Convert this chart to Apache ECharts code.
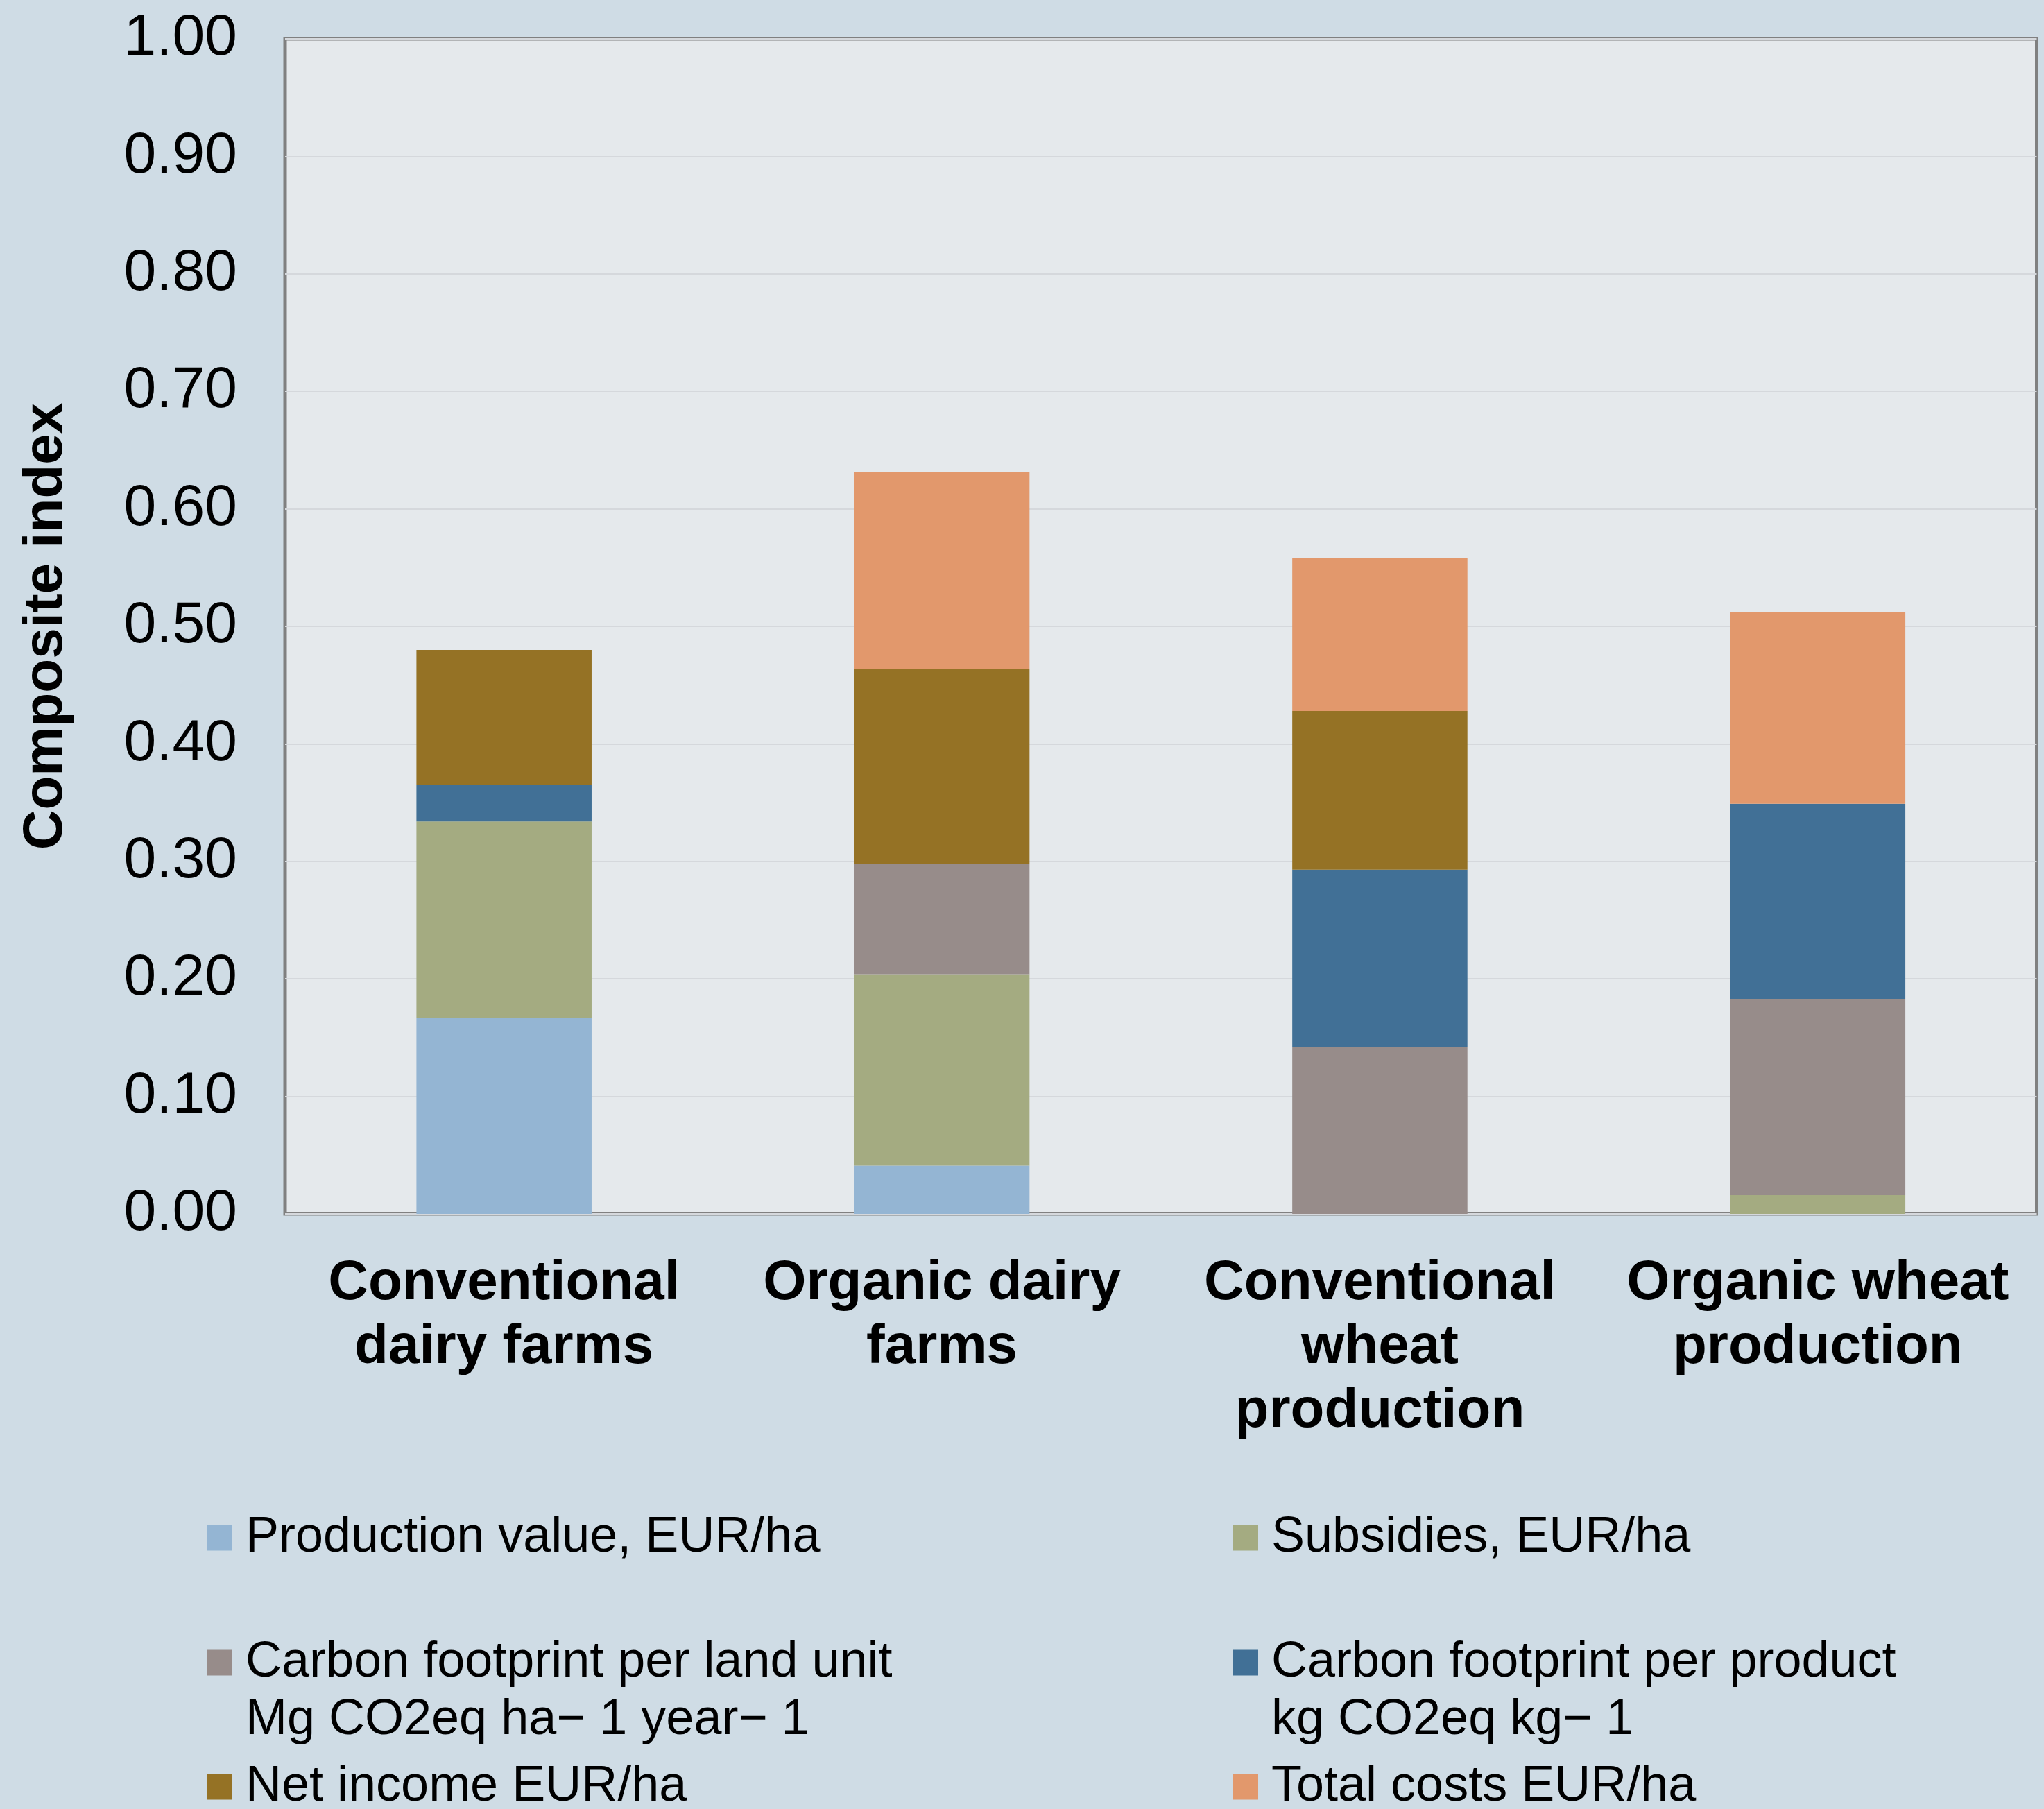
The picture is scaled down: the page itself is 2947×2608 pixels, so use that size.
<!DOCTYPE html>
<html>
<head>
<meta charset="utf-8">
<script src="https://cdn.jsdelivr.net/npm/echarts@6/dist/echarts.min.js"></script>
<style>
html,body{margin:0;padding:0;background:#CFDCE5;}
#c{width:2947px;height:2608px;}
</style>
</head>
<body>
<div id="c"></div>
<script>
const categories = ['Conventional\ndairy farms', 'Organic dairy\nfarms', 'Conventional\nwheat\nproduction', 'Organic wheat\nproduction'];
const seriesNames = [
  'Production value, EUR/ha',
  'Subsidies, EUR/ha',
  'Carbon footprint per land unit\nMg CO2eq ha\u2212 1 year\u2212 1',
  'Carbon footprint per product\nkg CO2eq kg\u2212 1',
  'Net income EUR/ha',
  'Total costs EUR/ha'
];
const productionValue = [0.167, 0.041, 0, 0];
const subsidies = [0.167, 0.163, 0, 0.016];
const carbonLand = [0, 0.094, 0.142, 0.167];
const carbonProduct = [0.031, 0, 0.151, 0.166];
const netIncome = [0.115, 0.166, 0.135, 0];
const totalCosts = [0, 0.167, 0.130, 0.163];
const seriesColors = ['#94B5D3', '#A4AB81', '#978C8A', '#417096', '#957225', '#E2986C'];
const yTicks = ['0.00','0.10','0.20','0.30','0.40','0.50','0.60','0.70','0.80','0.90','1.00'];

const seriesData = [productionValue, subsidies, carbonLand, carbonProduct, netIncome, totalCosts];
const FONT = '"Liberation Sans", Arial, Helvetica, sans-serif';

const chart = echarts.init(document.getElementById('c'), null, {renderer: 'canvas'});

const legendPos = [
  {left: 298, row: 0}, {left: 1777, row: 0},
  {left: 298, row: 1}, {left: 1777, row: 1},
  {left: 298, row: 2}, {left: 1777, row: 2}
];
const rowTops = [2217 - 41.5, 2397 - 124.5, 2576 - 41.5];

const legends = seriesNames.map((n, i) => ({
  data: [n],
  left: legendPos[i].left,
  top: rowTops[legendPos[i].row],
  padding: 0,
  itemWidth: 37,
  itemHeight: 37,
  icon: 'rect',
  selectedMode: false,
  formatter: n.indexOf('\n') >= 0 ? '\u00a0\n{name}' : '{name}',
  textStyle: {fontSize: 72, lineHeight: 83, color: '#000', fontFamily: FONT, padding: [0, 0, 0, 14]}
}));

const option = {
  backgroundColor: '#CFDCE5',
  animation: false,
  grid: {
    left: 411, right: 10.5, top: 56, bottom: 858,
    show: true, backgroundColor: '#E5E9EC', borderColor: '#808080', borderWidth: 5, z: 0
  },
  legend: legends,
  xAxis: {
    type: 'category',
    data: categories,
    axisLine: {show: false},
    axisTick: {show: false},
    axisLabel: {
      interval: 0, margin: 55, color: '#000', fontSize: 80, fontWeight: 'bold',
      lineHeight: 92, fontFamily: FONT
    }
  },
  yAxis: {
    type: 'value',
    min: 0, max: 1, interval: 0.1,
    name: 'Composite index',
    nameLocation: 'middle',
    nameGap: 304,
    nameTextStyle: {fontSize: 80, fontWeight: 'bold', color: '#000', fontFamily: FONT},
    axisLine: {show: false},
    axisTick: {show: false},
    splitLine: {lineStyle: {color: '#D5D8DC', width: 2}},
    axisLabel: {
      margin: 69, fontSize: 84, color: '#000', fontFamily: FONT,
      formatter: v => yTicks[Math.round(v * 10)]
    }
  },
  series: seriesNames.map((n, i) => ({
    name: n,
    type: 'bar',
    stack: 'total',
    barWidth: '40%',
    data: seriesData[i],
    itemStyle: {color: seriesColors[i]},
    z: 2
  }))
};
chart.setOption(option);
</script>
</body>
</html>
